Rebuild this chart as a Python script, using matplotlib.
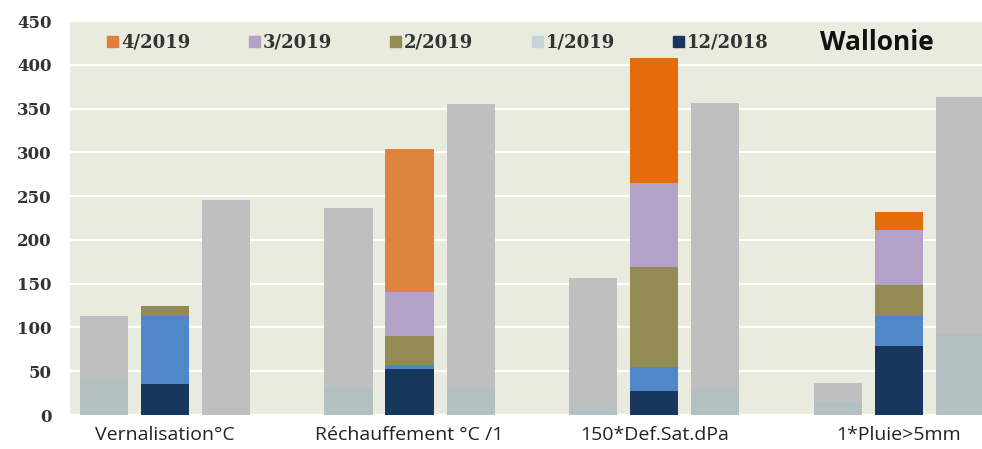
import numpy as np
import matplotlib.pyplot as plt
from matplotlib.patches import Patch

categories = ['Vernalisation°C', 'Réchauffement °C /1', '150*Def.Sat.dPa', '1*Pluie>5mm']

# barres empilées (saison en cours)
dec_2018 = [35, 53, 27, 79]
jan_2019 = [78, 4, 28, 34]
feb_2019 = [12, 33, 114, 36]
mar_2019 = [0, 50, 96, 62]
apr_2019 = [0, 164, 143, 21]

# barres grises (référence gauche / droite)
left_total = [113, 237, 157, 36]
left_base = [40, 31, 9, 15]
right_total = [246, 355, 357, 363]
right_base = [0, 31, 30, 93]

legend_labels = ['4/2019', '3/2019', '2/2019', '1/2019', '12/2018']

c_navy = '#17375e'
c_blue = '#4f87c9'
c_olive = '#948a54'
c_lav = '#b3a2c7'
c_orange = ['#e07b39', '#dc843f', '#e46c0a', '#e46c0a']
c_gray = '#bfbfbf'
c_base = '#b3c0c1'
legend_colors = ['#dc8040', '#b3a2c7', '#948a54', '#c5d3d8', '#17375e']

fig = plt.figure(figsize=(9.82, 4.49), dpi=100)
ax = fig.add_axes([0.0713, 0.0757, 0.9287, 0.8773])
ax.set_facecolor('#e9ebdf')

x = np.arange(len(categories))
w = 0.197
off = 0.25

# gris gauche
lt = np.array(left_total)
lb = np.array(left_base)
ax.bar(x - off, lb, w, color=c_base, zorder=3)
ax.bar(x - off, lt - lb, w, bottom=lb, color=c_gray, zorder=3)

# gris droite
rt = np.array(right_total)
rb = np.array(right_base)
ax.bar(x + off, rb, w, color=c_base, zorder=3)
ax.bar(x + off, rt - rb, w, bottom=rb, color=c_gray, zorder=3)

# empilé
bottom = np.zeros(len(categories))
for vals, col in [(dec_2018, c_navy), (jan_2019, c_blue), (feb_2019, c_olive),
                  (mar_2019, c_lav), (apr_2019, c_orange)]:
    ax.bar(x, vals, w, bottom=bottom, color=col, zorder=3)
    bottom += np.array(vals)

ax.set_ylim(0, 450)
ax.set_xlim(-0.388, 3.34)
ax.set_yticks(np.arange(0, 451, 50))
ax.yaxis.grid(True, color='white', linewidth=1.6, zorder=1)
ax.set_axisbelow(True)
for s in ax.spines.values():
    s.set_visible(False)
ax.tick_params(length=0)
ax.tick_params(axis='y', pad=13, labelsize=12, labelcolor='#333333')
for t in ax.get_yticklabels():
    t.set_fontfamily('DejaVu Serif')
    t.set_fontweight('bold')
ax.set_xticks(x)
ax.set_xticklabels(categories, fontsize=14, color='#222222', fontfamily='Open Sans')
ax.tick_params(axis='x', pad=8)

handles = [Patch(color=c) for c in legend_colors]
leg = ax.legend(handles, legend_labels, ncol=5, loc='center left',
                bbox_to_anchor=(0.033, 0.945), frameon=False,
                prop={'family': 'DejaVu Serif', 'weight': 'bold', 'size': 13},
                handlelength=0.6, handleheight=0.6, handletextpad=0.15,
                columnspacing=3.25, borderaxespad=0)
for t in leg.get_texts():
    t.set_color('#333333')

ax.text(0.822, 0.945, 'Wallonie', transform=ax.transAxes, fontsize=19,
        fontweight='bold', fontfamily='Open Sans', va='center', ha='left', color='#111111')

fig.savefig('out.png', dpi=100)
